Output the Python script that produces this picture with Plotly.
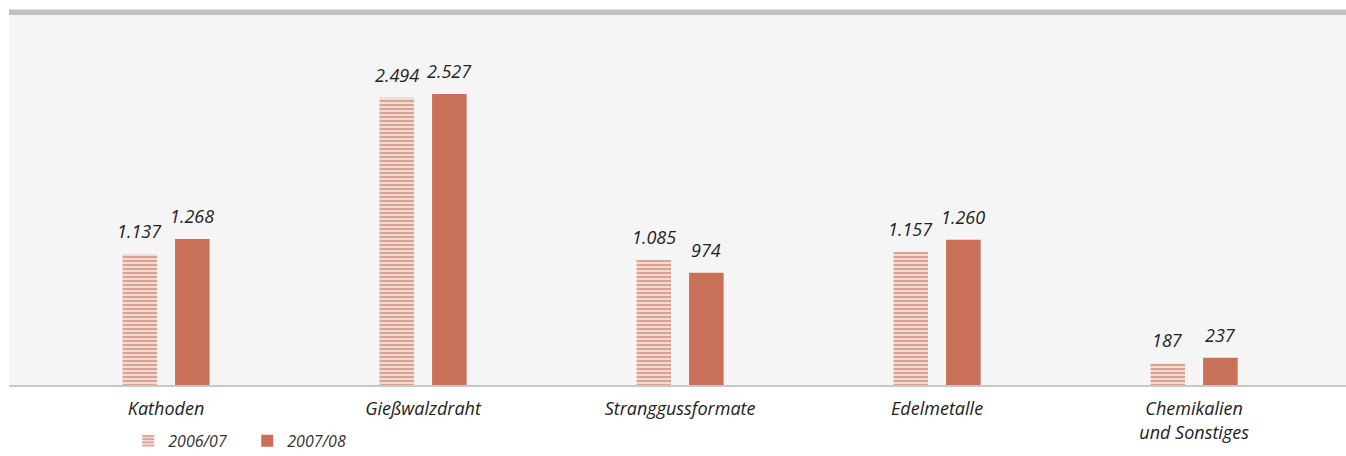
import plotly.graph_objects as go

categories = ["Kathoden", "Gießwalzdraht", "Stranggussformate", "Edelmetalle", "Chemikalien<br>und Sonstiges"]
series_names = ["2006/07", "2007/08"]
values_0607 = [1137, 2494, 1085, 1157, 187]
values_0708 = [1268, 2527, 974, 1260, 237]

BAR = "#c87058"
HATCH = "#c64e2c"
FONT = "Open Sans"
TXT = dict(family=FONT, size=18, color="#222222", style="italic")

# geometry of grouped bars (for label offsets)
BARGAP = 0.591
BARGROUPGAP = 0.343
PX_PER_CAT = 257.0
slot_px = PX_PER_CAT * (1 - BARGAP) / 2

fig = go.Figure()
fig.add_trace(go.Bar(
    x=categories, y=values_0607, name=series_names[0],
    marker=dict(color="rgba(0,0,0,0)", line=dict(width=0),
                pattern=dict(shape="-", size=4, solidity=0.65, fgcolor=HATCH, bgcolor="#f5f5f5")),
))
fig.add_trace(go.Bar(
    x=categories, y=values_0708, name=series_names[1],
    marker=dict(color=BAR, line=dict(width=0)),
))

annotations = []
for vals, sign in ((values_0607, -1), (values_0708, 1)):
    for c, v in zip(categories, vals):
        annotations.append(dict(
            x=c, y=v, xref="x", yref="y", text=f"{v:,}".replace(",", "."),
            showarrow=False, yanchor="bottom", xanchor="center",
            xshift=sign * slot_px / 2, yshift=9, font=TXT,
        ))

fig.update_layout(
    width=1346, height=456,
    margin=dict(l=9, r=0, t=15, b=71, autoexpand=False),
    paper_bgcolor="white", plot_bgcolor="#f5f5f5",
    separators=",.",
    barmode="group", bargap=BARGAP, bargroupgap=BARGROUPGAP,
    font=dict(family=FONT, color="#222222"),
    showlegend=True,
    legend=dict(orientation="h", x=0.0892, xanchor="left", y=-0.197, yanchor="bottom",
                font=dict(family=FONT, size=16, color="#333333", style="italic"),
                entrywidth=74, entrywidthmode="pixels",
                bgcolor="rgba(0,0,0,0)", traceorder="normal"),
    xaxis=dict(range=[-0.611, 4.591], showgrid=False, zeroline=False, automargin=False,
               showline=True, linecolor="#c8c8c8", linewidth=1.5,
               ticks="", ticklabelstandoff=7,
               tickfont=dict(family=FONT, size=18, color="#222222", style="italic")),
    yaxis=dict(range=[0, 3212], visible=False, showgrid=False, zeroline=False, automargin=False),
    annotations=annotations,
    shapes=[dict(type="rect", xref="paper", yref="paper", x0=0, x1=1, y0=1, y1=1 + 5.5/370,
                 fillcolor="#c2c2c2", line=dict(width=0), layer="above")],
)

fig.write_html("out.html")
